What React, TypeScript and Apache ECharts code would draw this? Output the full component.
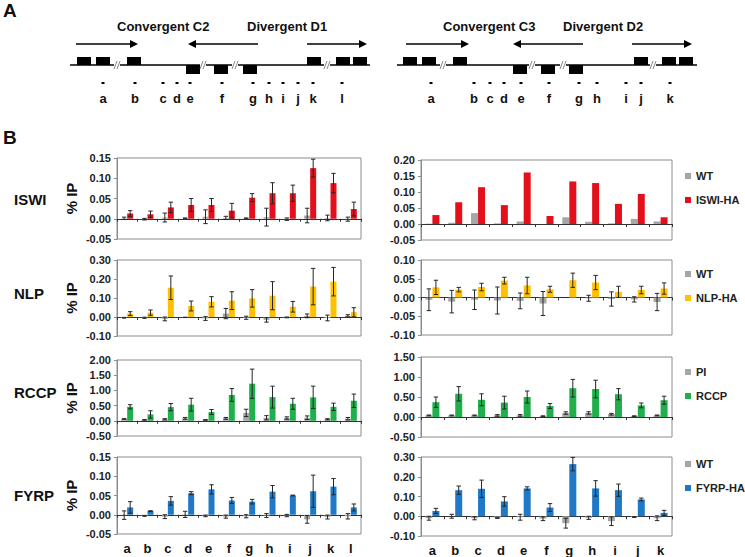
import React, { useEffect, useRef } from "react";
import * as echarts from "echarts";

// ---------- data ----------
const leftCats = ["a", "b", "c", "d", "e", "f", "g", "h", "i", "j", "k", "l"];
const rightCats = ["a", "b", "c", "d", "e", "f", "g", "h", "i", "j", "k"];

// Left column (C2 / D1)
const iswiL_wt = [0.001, -0.001, 0.003, 0.001, 0.005, 0.002, 0.001, 0.004, -0.001, 0.008, 0.002, -0.001];
const iswiL_wtErr = [0.003, 0.002, 0.011, 0.001, 0.017, 0.004, 0.001, 0.022, 0.003, 0.018, 0.007, 0.005];
const iswiL_ha = [0.013, 0.011, 0.028, 0.034, 0.034, 0.02, 0.052, 0.063, 0.063, 0.125, 0.088, 0.024];
const iswiL_haErr = [0.007, 0.008, 0.013, 0.016, 0.016, 0.018, 0.01, 0.026, 0.02, 0.022, 0.024, 0.017];

const nlpL_wt = [-0.004, -0.004, -0.01, -0.002, -0.008, 0.018, -0.004, -0.015, -0.002, 0.006, -0.005, 0.006];
const nlpL_wtErr = [0.002, 0.003, 0.01, 0.001, 0.01, 0.027, 0.008, 0.012, 0.002, 0.01, 0.015, 0.006];
const nlpL_ha = [0.018, 0.023, 0.154, 0.058, 0.08, 0.086, 0.098, 0.112, 0.054, 0.16, 0.186, 0.025];
const nlpL_haErr = [0.01, 0.014, 0.062, 0.026, 0.027, 0.047, 0.046, 0.074, 0.028, 0.096, 0.075, 0.024];

const rccpL_pi = [0.06, 0.03, 0.05, 0.08, 0.03, 0.08, 0.26, 0.1, 0.09, 0.1, 0.05, 0.07];
const rccpL_piErr = [0.01, 0.01, 0.02, 0.03, 0.01, 0.03, 0.12, 0.07, 0.04, 0.06, 0.02, 0.04];
const rccpL_rccp = [0.46, 0.21, 0.45, 0.53, 0.29, 0.85, 1.22, 0.78, 0.56, 0.77, 0.46, 0.66];
const rccpL_rccpErr = [0.07, 0.12, 0.12, 0.21, 0.08, 0.21, 0.48, 0.36, 0.18, 0.37, 0.12, 0.22];

const fyrpL_wt = [-0.001, -0.003, -0.005, 0.001, -0.003, -0.005, -0.004, -0.002, -0.002, -0.012, -0.006, -0.004];
const fyrpL_wtErr = [0.011, 0.001, 0.005, 0.008, 0.002, 0.004, 0.004, 0.005, 0.003, 0.01, 0.005, 0.007];
const fyrpL_ha = [0.019, 0.0095, 0.036, 0.056, 0.066, 0.037, 0.034, 0.06, 0.05, 0.061, 0.073, 0.019];
const fyrpL_haErr = [0.015, 0.001, 0.011, 0.004, 0.012, 0.008, 0.006, 0.016, 0.001, 0.042, 0.021, 0.009];

// Right column (C3 / D2)
const iswiR_wt = [0.001, 0.004, 0.034, 0.002, 0.008, 0.0, 0.021, 0.007, 0.002, 0.016, 0.008];
const iswiR_ha = [0.028, 0.068, 0.115, 0.059, 0.161, 0.025, 0.133, 0.128, 0.063, 0.094, 0.021];

const nlpR_wt = [-0.006, -0.011, -0.006, -0.008, -0.009, -0.016, 0.0, -0.002, -0.004, -0.005, -0.012];
const nlpR_wtErr = [0.029, 0.03, 0.026, 0.036, 0.021, 0.032, 0.0, 0.008, 0.019, 0.007, 0.023];
const nlpR_ha = [0.027, 0.021, 0.028, 0.045, 0.032, 0.022, 0.046, 0.04, 0.015, 0.02, 0.024];
const nlpR_haErr = [0.019, 0.006, 0.01, 0.009, 0.022, 0.008, 0.019, 0.019, 0.015, 0.01, 0.015];

const rccpR_pi = [0.04, 0.04, 0.04, 0.04, 0.04, 0.02, 0.1, 0.1, 0.07, 0.02, 0.04];
const rccpR_piErr = [0.01, 0.01, 0.01, 0.02, 0.02, 0.01, 0.03, 0.03, 0.02, 0.01, 0.01];
const rccpR_rccp = [0.37, 0.58, 0.43, 0.36, 0.5, 0.275, 0.72, 0.7, 0.57, 0.29, 0.42];
const rccpR_rccpErr = [0.13, 0.18, 0.15, 0.16, 0.15, 0.06, 0.22, 0.22, 0.14, 0.06, 0.1];

const fyrpR_wt = [-0.01, 0.0, -0.01, -0.008, -0.005, -0.012, -0.035, -0.008, -0.025, -0.004, -0.01];
const fyrpR_wtErr = [0.01, 0.01, 0.008, 0.003, 0.015, 0.01, 0.025, 0.008, 0.022, 0.002, 0.012];
const fyrpR_ha = [0.027, 0.132, 0.139, 0.075, 0.141, 0.044, 0.264, 0.141, 0.132, 0.085, 0.017];
const fyrpR_haErr = [0.013, 0.021, 0.044, 0.024, 0.008, 0.02, 0.034, 0.039, 0.031, 0.007, 0.013];

const rowLabels = ["ISWI", "NLP", "RCCP", "FYRP"];
const schematicLeftLabels = ["a", "b", "c", "d", "e", "f", "g", "h", "i", "j", "k", "l"];
const schematicRightLabels = ["a", "b", "c", "d", "e", "f", "g", "h", "i", "j", "k"];

// ---------- styles / layout ----------
const FONT = 'Arial, "Liberation Sans", Helvetica, sans-serif';
const GREY = "#a6a6a6";
const COLORS = ["#e3101b", "#ffc000", "#1fb04b", "#1f78c8"];

type Panel = {
  row: number;
  col: number;
  cats: string[];
  ctrlName: string;
  expName: string;
  ctrl: number[];
  ctrlErr: number[] | null;
  exp: number[];
  expErr: number[] | null;
  min: number;
  max: number;
  interval: number;
};

const panels: Panel[] = [
  { row: 0, col: 0, cats: leftCats, ctrlName: "WT", expName: "ISWI-HA", ctrl: iswiL_wt, ctrlErr: iswiL_wtErr, exp: iswiL_ha, expErr: iswiL_haErr, min: -0.05, max: 0.15, interval: 0.05 },
  { row: 1, col: 0, cats: leftCats, ctrlName: "WT", expName: "NLP-HA", ctrl: nlpL_wt, ctrlErr: nlpL_wtErr, exp: nlpL_ha, expErr: nlpL_haErr, min: -0.1, max: 0.3, interval: 0.1 },
  { row: 2, col: 0, cats: leftCats, ctrlName: "PI", expName: "RCCP", ctrl: rccpL_pi, ctrlErr: rccpL_piErr, exp: rccpL_rccp, expErr: rccpL_rccpErr, min: -0.5, max: 2.0, interval: 0.5 },
  { row: 3, col: 0, cats: leftCats, ctrlName: "WT", expName: "FYRP-HA", ctrl: fyrpL_wt, ctrlErr: fyrpL_wtErr, exp: fyrpL_ha, expErr: fyrpL_haErr, min: -0.05, max: 0.15, interval: 0.05 },
  { row: 0, col: 1, cats: rightCats, ctrlName: "WT", expName: "ISWI-HA", ctrl: iswiR_wt, ctrlErr: null, exp: iswiR_ha, expErr: null, min: -0.05, max: 0.2, interval: 0.05 },
  { row: 1, col: 1, cats: rightCats, ctrlName: "WT", expName: "NLP-HA", ctrl: nlpR_wt, ctrlErr: nlpR_wtErr, exp: nlpR_ha, expErr: nlpR_haErr, min: -0.1, max: 0.1, interval: 0.05 },
  { row: 2, col: 1, cats: rightCats, ctrlName: "PI", expName: "RCCP", ctrl: rccpR_pi, ctrlErr: rccpR_piErr, exp: rccpR_rccp, expErr: rccpR_rccpErr, min: -0.5, max: 1.5, interval: 0.5 },
  { row: 3, col: 1, cats: rightCats, ctrlName: "WT", expName: "FYRP-HA", ctrl: fyrpR_wt, ctrlErr: fyrpR_wtErr, exp: fyrpR_ha, expErr: fyrpR_haErr, min: -0.1, max: 0.3, interval: 0.1 },
];

const GRID_X = [117, 421];
const GRID_W = [244, 251];
const GRID_TOP = [
  [158, 260, 360, 457],
  [160, 260, 357, 457],
];
const GRID_H = [
  [81, 76, 76, 77],
  [80, 75, 80, 79],
];
const BAR_W = [6, 7];
const LEGEND_TOP = [169, 267, 365, 457];
const ROW_LABEL_Y = [199, 293, 392, 495];

// schematic layout (panel A)
const LEFT_SCHEME = {
  base: [70, 370],
  up: [77, 96, 127, 307, 336, 353],
  down: [186, 214, 243],
  breaks: [117, 203, 235, 327],
  arrows: [[76, 138], [258, 188], [307, 367]],
  titles: [["Convergent C2", 117], ["Divergent D1", 247]],
  labelX: [103, 135, 163, 177, 190, 222, 253, 269, 283, 298, 313, 342],
};
const RIGHT_SCHEME = {
  base: [397, 697],
  up: [403, 422, 453, 634, 662, 679],
  down: [513, 541, 569],
  breaks: [443, 532, 563, 653],
  arrows: [[406, 469], [583, 513], [632, 692]],
  titles: [["Convergent C3", 443], ["Divergent D2", 563]],
  labelX: [431, 474, 490, 504, 521, 549, 579, 597, 626, 641, 670],
};

function txt(text: string, x: number, y: number, size: number, align = "left", rotation = 0): any {
  return {
    type: "text",
    x,
    y,
    rotation,
    style: {
      text,
      fill: "#111",
      fontSize: size,
      fontWeight: "bold",
      fontFamily: FONT,
      textAlign: align,
      align,
      textVerticalAlign: "middle",
      verticalAlign: "middle",
    },
  };
}

function scheme(s: typeof LEFT_SCHEME, labels: string[]): any[] {
  const out: any[] = [];
  const Y = 65;
  out.push({ type: "line", shape: { x1: s.base[0], y1: Y, x2: s.base[1], y2: Y }, style: { stroke: "#000", lineWidth: 1.5 } });
  s.up.forEach((x) => out.push({ type: "rect", shape: { x, y: 57, width: 14, height: 8 }, style: { fill: "#000" } }));
  s.down.forEach((x) => out.push({ type: "rect", shape: { x, y: 65, width: 14, height: 9 }, style: { fill: "#000" } }));
  s.breaks.forEach((x) => {
    out.push({ type: "rect", shape: { x: x - 3, y: 62, width: 6, height: 6 }, style: { fill: "#fff" } });
    out.push({ type: "line", shape: { x1: x - 3, y1: 69, x2: x, y2: 61 }, style: { stroke: "#888", lineWidth: 1 } });
    out.push({ type: "line", shape: { x1: x, y1: 69, x2: x + 3, y2: 61 }, style: { stroke: "#888", lineWidth: 1 } });
  });
  s.arrows.forEach(([a, b]) => {
    const dir = b > a ? 1 : -1;
    out.push({ type: "line", shape: { x1: a, y1: 44, x2: b - dir * 4, y2: 44 }, style: { stroke: "#000", lineWidth: 1.5 } });
    out.push({ type: "polygon", shape: { points: [[b, 44], [b - dir * 8, 40], [b - dir * 8, 48]] }, style: { fill: "#000" } });
  });
  s.titles.forEach(([t, x]) => out.push(txt(t as string, x as number, 26, 13)));
  s.labelX.forEach((x, i) => {
    out.push({ type: "rect", shape: { x: x - 1.5, y: 82, width: 3, height: 2 }, style: { fill: "#000" } });
    out.push(txt(labels[i], x, 98, 13, "center"));
  });
  return out;
}

const fmt = (v: number) => (Math.abs(v) < 1e-9 ? 0 : v).toFixed(2);

function buildOption(): any {
  const grid: any[] = [];
  const xAxis: any[] = [];
  const yAxis: any[] = [];
  const series: any[] = [];
  const legend: any[] = [];

  panels.forEach((p, gi) => {
    const c = p.col;
    const color = COLORS[p.row];
    const bw = BAR_W[c];
    grid.push({
      left: GRID_X[c],
      top: GRID_TOP[c][p.row],
      width: GRID_W[c],
      height: GRID_H[c][p.row],
      show: true,
      borderColor: "#8c8c8c",
      borderWidth: 1,
      backgroundColor: "#fff",
    });
    const mainX = xAxis.length;
    xAxis.push({
      type: "category",
      gridIndex: gi,
      data: p.cats,
      position: "bottom",
      axisLine: { show: true, onZero: true, lineStyle: { color: "#333", width: 1 } },
      axisTick: { show: true, length: 3, lineStyle: { color: "#333" } },
      axisLabel: { show: false },
      splitLine: { show: false },
    });
    if (p.row === 3) {
      xAxis.push({
        type: "category",
        gridIndex: gi,
        data: p.cats,
        position: "bottom",
        axisLine: { show: false, onZero: false },
        axisTick: { show: false },
        axisLabel: { show: true, margin: 8, fontSize: 13, fontWeight: "bold", fontFamily: FONT, color: "#111" },
        splitLine: { show: false },
      });
    }
    yAxis.push({
      type: "value",
      gridIndex: gi,
      min: p.min,
      max: p.max,
      interval: p.interval,
      name: c === 0 ? "% IP" : "",
      nameLocation: "middle",
      nameRotate: 90,
      nameGap: 38,
      nameTextStyle: { fontSize: 15, fontWeight: "bold", fontFamily: FONT, color: "#111" },
      axisLine: { show: true, lineStyle: { color: "#8c8c8c" } },
      axisTick: { show: true, length: 3, lineStyle: { color: "#8c8c8c" } },
      axisLabel: { formatter: fmt, fontSize: 11, fontWeight: "bold", fontFamily: FONT, color: "#222", margin: 6 },
      splitLine: { show: false },
    });
    series.push({
      type: "bar",
      name: p.ctrlName,
      xAxisIndex: mainX,
      yAxisIndex: gi,
      data: p.ctrl,
      barWidth: bw,
      barGap: "0%",
      itemStyle: { color: GREY },
    });
    series.push({
      type: "bar",
      name: p.expName,
      xAxisIndex: mainX,
      yAxisIndex: gi,
      data: p.exp,
      barWidth: bw,
      barGap: "0%",
      itemStyle: { color },
    });
    const errData: number[][] = [];
    if (p.ctrlErr) p.ctrl.forEach((v, i) => errData.push([i, v - p.ctrlErr![i], v + p.ctrlErr![i], -1]));
    if (p.expErr) p.exp.forEach((v, i) => errData.push([i, v - p.expErr![i], v + p.expErr![i], 1]));
    if (errData.length) {
      series.push({
        type: "custom",
        name: "err" + gi,
        xAxisIndex: mainX,
        yAxisIndex: gi,
        z: 5,
        encode: { x: 0, y: [1, 2] },
        data: errData,
        renderItem: (params: any, api: any) => {
          const i = api.value(0);
          const lo = api.coord([i, api.value(1)]);
          const hi = api.coord([i, api.value(2)]);
          const x = lo[0] + (api.value(3) * bw) / 2;
          const st = { stroke: "#262626", lineWidth: 1 };
          const cap = 2.2;
          return {
            type: "group",
            children: [
              { type: "line", shape: { x1: x, y1: lo[1], x2: x, y2: hi[1] }, style: st },
              { type: "line", shape: { x1: x - cap, y1: hi[1], x2: x + cap, y2: hi[1] }, style: st },
              { type: "line", shape: { x1: x - cap, y1: lo[1], x2: x + cap, y2: lo[1] }, style: st },
            ],
          };
        },
      });
    }
    if (c === 1) {
      legend.push({
        orient: "vertical",
        left: 685,
        top: LEGEND_TOP[p.row],
        padding: 0,
        itemGap: 10,
        itemWidth: 6,
        itemHeight: 6,
        icon: "rect",
        selectedMode: false,
        data: [p.ctrlName, p.expName],
        textStyle: { fontSize: 11, fontWeight: "bold", fontFamily: FONT, color: "#222", lineHeight: 14 },
      });
    }
  });

  const graphic: any[] = [
    txt("A", 3, 10, 19),
    txt("B", 3, 137, 19),
    ...scheme(LEFT_SCHEME, schematicLeftLabels),
    ...scheme(RIGHT_SCHEME, schematicRightLabels),
    ...rowLabels.map((t, i) => txt(t, 14, ROW_LABEL_Y[i], 15)),
  ];

  return { animation: false, backgroundColor: "#fff", grid, xAxis, yAxis, series, legend, graphic };
}

export default function App() {
  const ref = useRef<HTMLDivElement>(null);
  useEffect(() => {
    if (!ref.current) return;
    const chart = echarts.init(ref.current, undefined, { renderer: "svg" });
    chart.setOption(buildOption());
    return () => chart.dispose();
  }, []);
  return (
    <div
      ref={ref}
      style={{ position: "fixed", left: 0, top: 0, width: 745, height: 557, background: "#fff" }}
    />
  );
}
